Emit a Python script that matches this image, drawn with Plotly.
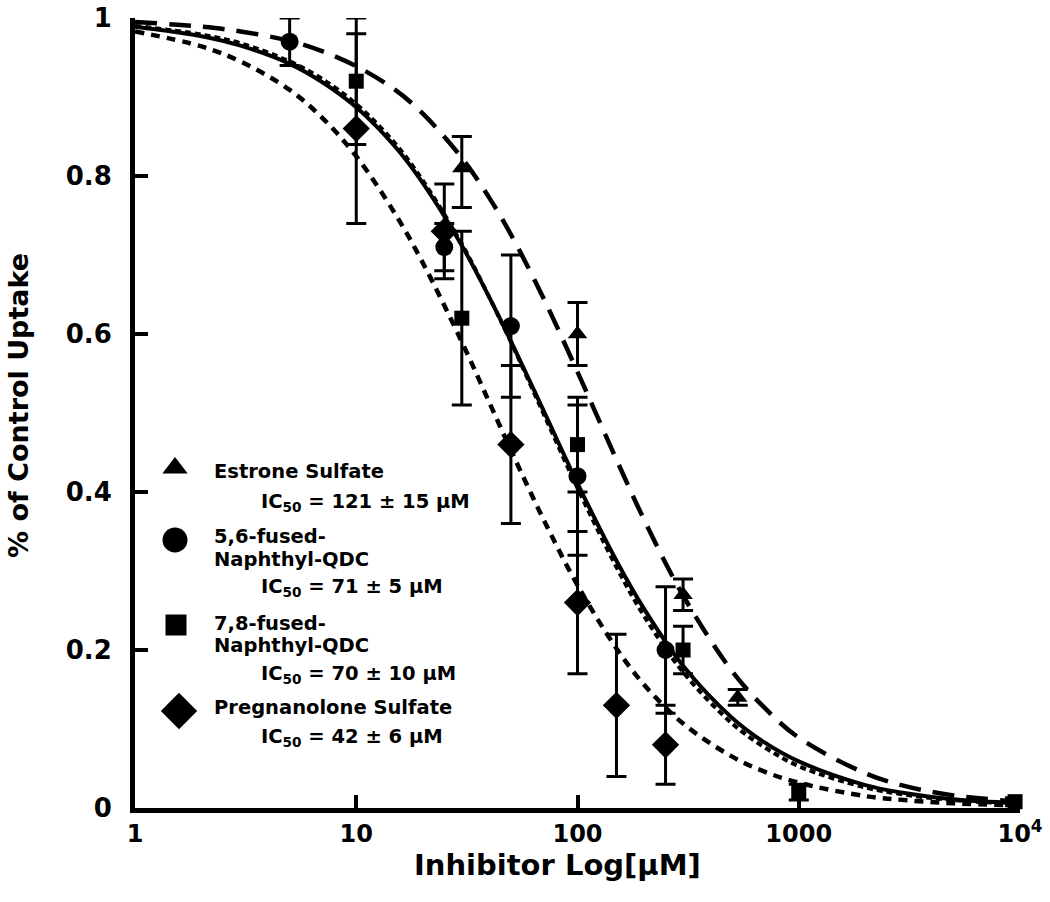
import plotly.graph_objects as go

# fitted curves at these concentrations
curve_x = [1, 2, 3, 5, 7, 10, 15, 20, 30, 40, 50, 70, 100, 150, 200, 300,
           500, 700, 1000, 2000, 3000, 5000, 10000]
estrone_fit = [0.995, 0.989, 0.983, 0.971, 0.958, 0.939, 0.909, 0.879, 0.823, 0.772,
               0.726, 0.646, 0.552, 0.441, 0.365, 0.269, 0.173, 0.127, 0.089, 0.044,
               0.028, 0.016, 0.008]
fused56_fit = [0.989, 0.977, 0.965, 0.942, 0.919, 0.887, 0.837, 0.791, 0.712, 0.646,
               0.591, 0.504, 0.411, 0.313, 0.252, 0.180, 0.114, 0.083, 0.059, 0.029,
               0.019, 0.011, 0.006]
fused78_fit = [0.990, 0.979, 0.968, 0.945, 0.923, 0.891, 0.841, 0.794, 0.714, 0.646,
               0.590, 0.500, 0.405, 0.305, 0.243, 0.172, 0.107, 0.077, 0.053, 0.026,
               0.017, 0.010, 0.005]
pregna_fit = [0.983, 0.964, 0.945, 0.909, 0.874, 0.825, 0.752, 0.690, 0.590, 0.513,
              0.453, 0.366, 0.282, 0.202, 0.156, 0.107, 0.065, 0.046, 0.032, 0.015,
              0.010, 0.006, 0.003]

# measured points with error bars
estrone_x = [30, 100, 300, 530]
estrone_y = [0.81, 0.60, 0.27, 0.14]
estrone_up = [0.04, 0.04, 0.02, 0.01]
estrone_dn = [0.05, 0.04, 0.02, 0.01]

fused56_x = [5, 25, 50, 100, 250]
fused56_y = [0.97, 0.71, 0.61, 0.42, 0.20]
fused56_up = [0.03, 0.03, 0.09, 0.09, 0.08]
fused56_dn = [0.03, 0.03, 0.09, 0.10, 0.08]

fused78_x = [10, 30, 100, 300, 1000, 9500]
fused78_y = [0.92, 0.62, 0.46, 0.20, 0.02, 0.008]
fused78_err = [0.08, 0.11, 0.06, 0.03, 0.01, 0.005]

pregna_x = [10, 25, 50, 100, 150, 250]
pregna_y = [0.86, 0.73, 0.46, 0.26, 0.13, 0.08]
pregna_err = [0.12, 0.06, 0.10, 0.09, 0.09, 0.05]

x_ticks = [1, 10, 100, 1000, 10000]
x_labels = ['1', '10', '100', '1000', '10<sup>4</sup>']
y_ticks = [0, 0.2, 0.4, 0.6, 0.8, 1]
y_labels = ['0', '0.2', '0.4', '0.6', '0.8', '1']

legend_names = [['Estrone Sulfate'], ['5,6-fused-', 'Naphthyl-QDC'],
                ['7,8-fused-', 'Naphthyl-QDC'], ['Pregnanolone Sulfate']]
legend_ic50 = ['121 ± 15', '71 ± 5', '70 ± 10', '42 ± 6']

FONT = 'DejaVu Sans'
W, H = 1050, 902
# plot area in pixels
PX0, PX1, PY0, PY1 = 135, 1020, 18, 808

fig = go.Figure()

# curves
fig.add_trace(go.Scatter(x=curve_x, y=estrone_fit, mode='lines', line_shape='spline',
                         line=dict(color='black', width=4.5, dash='22px,12px'), showlegend=False))
fig.add_trace(go.Scatter(x=curve_x, y=fused78_fit, mode='lines', line_shape='spline',
                         line=dict(color='black', width=4, dash='6px,4px'), showlegend=False))
fig.add_trace(go.Scatter(x=curve_x, y=fused56_fit, mode='lines', line_shape='spline',
                         line=dict(color='black', width=4), showlegend=False))
fig.add_trace(go.Scatter(x=curve_x, y=pregna_fit, mode='lines', line_shape='spline',
                         line=dict(color='black', width=4.5, dash='9px,7px'), showlegend=False))

def err(up, dn=None):
    d = dict(type='data', array=up, color='black', thickness=3, width=10)
    if dn is not None:
        d['symmetric'] = False
        d['arrayminus'] = dn
    return d

symbols = ['triangle-up', 'circle', 'square', 'diamond']
sizes = [17, 18, 15, 21]
series = [(estrone_x, estrone_y, err(estrone_up, estrone_dn)),
          (fused56_x, fused56_y, err(fused56_up, fused56_dn)),
          (fused78_x, fused78_y, err(fused78_err)),
          (pregna_x, pregna_y, err(pregna_err))]
for (sx, sy, e), sym, sz in zip(series, symbols, sizes):
    fig.add_trace(go.Scatter(x=sx, y=sy, mode='markers', showlegend=False,
                             marker=dict(symbol=sym, size=sz, color='black'),
                             error_y=e, cliponaxis=False))

# hand-built key on a pixel overlay (x2/y2 span the plot area in pixels)
key_sym_x = [175, 175, 176, 179]
key_sym_y = [468, 540, 625, 711]
key_sym_size = [22, 25, 21, 28]
key_name_y = [[477], [542, 565], [629, 651], [713]]
key_ic_y = [505, 590, 677, 740]
for sx, sy, sym, sz in zip(key_sym_x, key_sym_y, symbols, key_sym_size):
    fig.add_trace(go.Scatter(x=[sx], y=[sy], xaxis='x2', yaxis='y2', mode='markers',
                             showlegend=False, hoverinfo='skip',
                             marker=dict(symbol=sym, size=sz, color='black', opacity=1,
                                         line=dict(width=0))))
annotations = []
for lines, ic, nys, iy in zip(legend_names, legend_ic50, key_name_y, key_ic_y):
    for line, ny in zip(lines, nys):
        annotations.append(dict(x=212, y=ny - 6, xref='x2', yref='y2',
                                xanchor='left', yanchor='middle',
                                text='<b>' + line + '</b>', showarrow=False,
                                font=dict(family=FONT, size=19.5, color='black')))
    annotations.append(dict(x=259, y=iy - 3, xref='x2', yref='y2',
                            xanchor='left', yanchor='middle',
                            text='<b>IC<sub>50</sub> = ' + ic + ' μM</b>', showarrow=False,
                            font=dict(family=FONT, size=19.5, color='black')))

def paper_x(px):
    return (px - PX0) / (PX1 - PX0)

def paper_y(py):
    return (PY1 - py) / (PY1 - PY0)

annotations.append(dict(x=paper_x(557), y=paper_y(865), xref='paper', yref='paper',
                        xanchor='center', yanchor='middle', showarrow=False,
                        text='<b>Inhibitor Log[μM]</b>',
                        font=dict(family=FONT, size=29, color='black')))
annotations.append(dict(x=paper_x(19), y=paper_y(406), xref='paper', yref='paper',
                        xanchor='center', yanchor='middle', showarrow=False, textangle=-90,
                        text='<b>% of Control Uptake</b>',
                        font=dict(family=FONT, size=27, color='black')))

fig.update_xaxes(type='log', range=[0, 4], tickvals=x_ticks,
                 ticktext=['<b>' + t + '</b>' for t in x_labels],
                 ticks='inside', ticklen=13, tickwidth=4, tickcolor='black',
                 showline=True, linewidth=5, linecolor='black', showgrid=False, zeroline=False,
                 tickfont=dict(size=24, color='black', family=FONT), ticklabelstandoff=0,
                 automargin=False)
fig.update_yaxes(range=[0, 1], tickvals=y_ticks,
                 ticktext=['<b>' + t + '</b>' for t in y_labels],
                 ticks='inside', ticklen=13, tickwidth=4, tickcolor='black',
                 showline=True, linewidth=5, linecolor='black', showgrid=False, zeroline=False,
                 tickfont=dict(size=26, color='black', family=FONT), ticklabelstandoff=13,
                 automargin=False)

fig.update_layout(
    width=W, height=H,
    margin=dict(l=PX0, r=W - PX1, t=PY0, b=H - PY1),
    plot_bgcolor='white', paper_bgcolor='white',
    font=dict(family=FONT, color='black'),
    showlegend=False,
    xaxis2=dict(overlaying='x', range=[PX0, PX1], visible=False, fixedrange=True,
                automargin=False),
    yaxis2=dict(overlaying='y', range=[PY1, PY0], visible=False, fixedrange=True,
                automargin=False),
    annotations=annotations,
)

# drop the default body margin so the figure sits at the page origin
fig.write_html("out.html", config={'displayModeBar': False},
               post_script="document.body.style.margin='0';")
